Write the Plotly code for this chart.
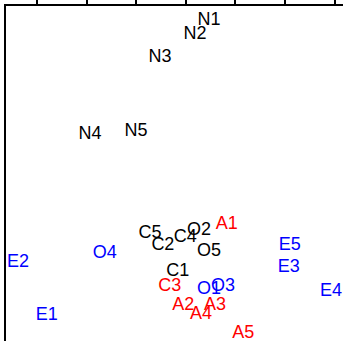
import plotly.graph_objects as go

# Label positions (axis units, top ticks at integers)
labels = ["N1", "N2", "N3", "N4", "N5",
          "C1", "C2", "C3", "C4", "C5",
          "O1", "O2", "O3", "O4", "O5",
          "A1", "A2", "A3", "A4", "A5",
          "E1", "E2", "E3", "E4", "E5"]
x_vals = [0.47, 0.19, -0.52, -1.93, -1.00,
          -0.16, -0.46, -0.32, -0.01, -0.72,
          0.47, 0.27, 0.75, -1.63, 0.47,
          0.83, -0.05, 0.59, 0.31, 1.16,
          -2.80, -3.38, 2.08, 2.93, 2.10]
y_vals = [3.33, 3.06, 2.60, 1.03, 1.09,
          -1.73, -1.19, -2.02, -1.03, -0.95,
          -2.08, -0.89, -2.02, -1.37, -1.33,
          -0.77, -2.40, -2.40, -2.60, -2.98,
          -2.62, -1.55, -1.65, -2.12, -1.19]
colors = ["black"] * 5 + ["black", "black", "red", "black", "black"] + \
         ["blue", "black", "blue", "blue", "black"] + ["red"] * 5 + ["blue"] * 5

x_ticks = [-3, -2, -1, 0, 1, 2, 3]

fig = go.Figure()
fig.add_trace(go.Scatter(
    x=x_vals, y=y_vals, text=labels, mode="text",
    textposition="middle center",
    textfont=dict(color=colors, size=18, family="Liberation Sans, Arial"),
    hoverinfo="skip", showlegend=False
))

fig.update_layout(
    width=343, height=341,
    margin=dict(l=6, r=0, t=6, b=0),
    plot_bgcolor="white", paper_bgcolor="white",
    xaxis=dict(range=[-3.623, 3.171], side="top", tickvals=x_ticks,
               ticks="outside", ticklen=6, tickwidth=1.5, tickcolor="black",
               showticklabels=False, showgrid=False, zeroline=False,
               showline=True, linecolor="black", linewidth=1.5),
    yaxis=dict(range=[-3.125, 3.629], showticklabels=False, ticks="",
               showgrid=False, zeroline=False,
               showline=True, linecolor="black", linewidth=1.5),
)

# drop the page's default body margin so the figure sits at the corner
fig.write_html("out.html", config={"displayModeBar": False},
               post_script="document.body.style.margin='0';document.body.style.overflow='hidden';")
